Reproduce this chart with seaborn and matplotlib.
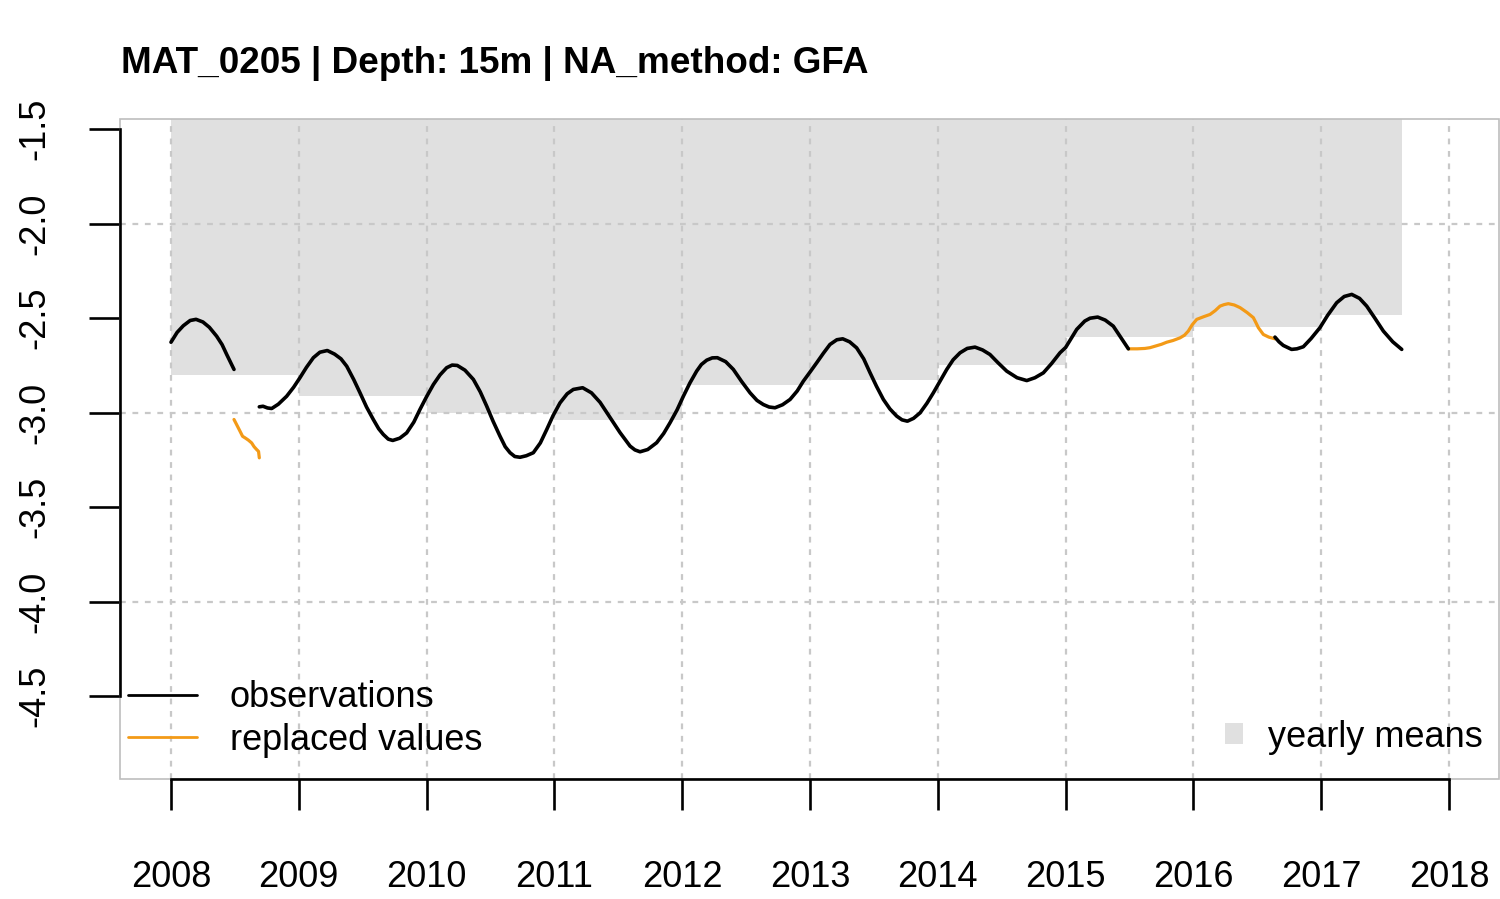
import matplotlib
matplotlib.use("Agg")
import matplotlib.pyplot as plt
import numpy as np
import pandas as pd
import seaborn as sns
from matplotlib.patches import Rectangle, Patch
from matplotlib.lines import Line2D

TITLE = "MAT_0205 | Depth: 15m | NA_method: GFA"

# ---- observations (black), three segments ----
obs_a_t = [2008.000, 2008.048, 2008.096, 2008.150, 2008.196, 2008.250, 2008.300,
           2008.357, 2008.400, 2008.436, 2008.493]
obs_a_v = [-2.627, -2.575, -2.540, -2.512, -2.506, -2.520, -2.548,
           -2.595, -2.640, -2.692, -2.771]

obs_b_t = [2008.691, 2008.720, 2008.755, 2008.788, 2008.840, 2008.905, 2008.960, 2009.009,
           2009.060, 2009.114, 2009.165, 2009.223, 2009.280, 2009.330, 2009.375, 2009.430,
           2009.479, 2009.530, 2009.583, 2009.625, 2009.661, 2009.700, 2009.735, 2009.790,
           2009.844, 2009.900, 2009.948, 2010.000, 2010.053, 2010.105, 2010.157, 2010.200,
           2010.240, 2010.300, 2010.366, 2010.420, 2010.470, 2010.520, 2010.574, 2010.615,
           2010.653, 2010.690, 2010.731, 2010.780, 2010.835, 2010.890, 2010.940, 2010.990,
           2011.044, 2011.100, 2011.148, 2011.221, 2011.290, 2011.357, 2011.430, 2011.513,
           2011.592, 2011.630, 2011.670, 2011.730, 2011.800, 2011.855, 2011.905, 2011.960,
           2012.009, 2012.060, 2012.113, 2012.150, 2012.192, 2012.235, 2012.275, 2012.340,
           2012.400, 2012.465, 2012.531, 2012.585, 2012.635, 2012.680, 2012.726, 2012.785,
           2012.844, 2012.900, 2012.948, 2013.000, 2013.052, 2013.105, 2013.156, 2013.210,
           2013.256, 2013.310, 2013.365, 2013.420, 2013.470, 2013.520, 2013.574, 2013.625,
           2013.678, 2013.720, 2013.762, 2013.810, 2013.861, 2013.915, 2013.965, 2014.020,
           2014.070, 2014.120, 2014.174, 2014.230, 2014.291, 2014.350, 2014.408, 2014.470,
           2014.539, 2014.620, 2014.696, 2014.760, 2014.826, 2014.890, 2014.956, 2015.000,
           2015.050, 2015.087, 2015.150, 2015.191, 2015.251, 2015.310, 2015.373, 2015.430,
           2015.491]
obs_b_v = [-2.969, -2.966, -2.975, -2.978, -2.955, -2.913, -2.865, -2.815,
           -2.760, -2.709, -2.680, -2.671, -2.690, -2.715, -2.754, -2.825,
           -2.895, -2.970, -3.036, -3.085, -3.115, -3.140, -3.147, -3.135,
           -3.107, -3.050, -2.983, -2.915, -2.851, -2.800, -2.762, -2.748,
           -2.750, -2.775, -2.824, -2.890, -2.965, -3.045, -3.124, -3.180,
           -3.212, -3.232, -3.236, -3.228, -3.212, -3.160, -3.089, -3.015,
           -2.948, -2.900, -2.877, -2.868, -2.895, -2.945, -3.020, -3.105,
           -3.177, -3.197, -3.207, -3.195, -3.159, -3.110, -3.053, -2.985,
           -2.913, -2.843, -2.780, -2.745, -2.722, -2.710, -2.709, -2.730,
           -2.771, -2.835, -2.895, -2.935, -2.957, -2.970, -2.974, -2.958,
           -2.930, -2.885, -2.833, -2.785, -2.736, -2.685, -2.639, -2.614,
           -2.609, -2.625, -2.657, -2.715, -2.789, -2.860, -2.930, -2.980,
           -3.018, -3.038, -3.045, -3.030, -3.001, -2.950, -2.895, -2.830,
           -2.771, -2.720, -2.683, -2.660, -2.653, -2.668, -2.692, -2.735,
           -2.780, -2.815, -2.830, -2.815, -2.789, -2.740, -2.683, -2.655,
           -2.600, -2.559, -2.515, -2.500, -2.494, -2.510, -2.542, -2.600,
           -2.662]

obs_c_t = [2016.638, 2016.670, 2016.703, 2016.768, 2016.810, 2016.860, 2016.920, 2016.990,
           2017.050, 2017.121, 2017.180, 2017.239, 2017.300, 2017.356, 2017.420, 2017.486,
           2017.560, 2017.630]
obs_c_v = [-2.600, -2.625, -2.644, -2.665, -2.662, -2.651, -2.608, -2.550,
           -2.485, -2.418, -2.385, -2.374, -2.395, -2.436, -2.500, -2.568,
           -2.625, -2.665]

# ---- replaced values (orange), two segments ----
rep_a_t = [2008.493, 2008.515, 2008.540, 2008.560, 2008.579, 2008.605, 2008.631,
           2008.650, 2008.670, 2008.685, 2008.691]
rep_a_v = [-3.036, -3.065, -3.098, -3.125, -3.133, -3.145, -3.160,
           -3.180, -3.195, -3.205, -3.239]

rep_b_t = [2015.491, 2015.560, 2015.620, 2015.660, 2015.700, 2015.750, 2015.791, 2015.840,
           2015.895, 2015.930, 2015.960, 2015.990, 2016.026, 2016.080, 2016.130, 2016.170,
           2016.208, 2016.240, 2016.273, 2016.320, 2016.365, 2016.420, 2016.469, 2016.490,
           2016.508, 2016.547, 2016.590, 2016.638]
rep_b_v = [-2.662, -2.662, -2.660, -2.656, -2.648, -2.638, -2.627, -2.618,
           -2.604, -2.590, -2.568, -2.535, -2.506, -2.492, -2.480, -2.460,
           -2.436, -2.428, -2.423, -2.430, -2.444, -2.470, -2.497, -2.525,
           -2.550, -2.586, -2.600, -2.609]

# ---- yearly means ----
mean_start = [2008.0, 2009.0, 2010.0, 2011.0, 2012.0, 2013.0, 2014.0, 2015.0, 2016.0, 2017.0]
mean_end = [2009.0, 2010.0, 2011.0, 2012.0, 2013.0, 2014.0, 2015.0, 2016.0, 2017.0, 2017.63]
mean_vals = [-2.80, -2.913, -3.00, -3.04, -2.854, -2.829, -2.748, -2.597, -2.545, -2.483]

x_ticks = list(range(2008, 2019))
y_ticks = [-1.5, -2.0, -2.5, -3.0, -3.5, -4.0, -4.5]
y_grid = [-2.0, -3.0, -4.0]

LEG_LINES = ["observations", "replaced values"]
LEG_BAR = "yearly means"

ORANGE = "#F39A17"
BARGRAY = "#E0E0E0"
GRIDC = "#C8C8C8"
BOXC = "#BEBEBE"

sns.set_style("white", {"xtick.bottom": True, "ytick.left": True})
plt.rcParams["font.family"] = ["Liberation Sans", "DejaVu Sans"]
plt.rcParams["text.color"] = "black"
plt.rcParams["xtick.color"] = "black"
plt.rcParams["ytick.color"] = "black"
plt.rcParams["legend.labelcolor"] = "black"

W, H = 1500, 899
fig = plt.figure(figsize=(W / 100, H / 100), dpi=100)
ax = fig.add_axes([120 / W, (H - 779) / H, 1379 / W, 660 / H])
XMIN, XMAX = 2007.601, 2018.391
YMIN, YMAX = -4.939, -1.4455
ax.set_xlim(XMIN, XMAX)
ax.set_ylim(YMIN, YMAX)

# yearly mean bars (from mean up to top of plot)
widths = [e - s for s, e in zip(mean_start, mean_end)]
heights = [YMAX + 1.0 - m for m in mean_vals]
ax.bar(mean_start, heights, bottom=mean_vals, width=widths, align="edge",
       color=BARGRAY, linewidth=0, zorder=1)

# grid
dash = (0, (2.6, 3.0))
for xv in x_ticks:
    ax.axvline(xv, color=GRIDC, lw=1.6, ls=dash, zorder=2)
for yv in y_grid:
    ax.axhline(yv, color=GRIDC, lw=1.6, ls=dash, zorder=2)

# series
obs = pd.concat([
    pd.DataFrame({"t": obs_a_t, "v": obs_a_v, "seg": 0}),
    pd.DataFrame({"t": obs_b_t, "v": obs_b_v, "seg": 1}),
    pd.DataFrame({"t": obs_c_t, "v": obs_c_v, "seg": 2}),
])
rep = pd.concat([
    pd.DataFrame({"t": rep_a_t, "v": rep_a_v, "seg": 0}),
    pd.DataFrame({"t": rep_b_t, "v": rep_b_v, "seg": 1}),
])
sns.lineplot(data=obs, x="t", y="v", units="seg", estimator=None, sort=False,
             color="black", lw=2.6, ax=ax, zorder=4, legend=False)
sns.lineplot(data=rep, x="t", y="v", units="seg", estimator=None, sort=False,
             color=ORANGE, lw=2.3, ax=ax, zorder=3, legend=False)
ax.set_xlabel("")
ax.set_ylabel("")

# box
ax.add_patch(Rectangle((0, 0), 1, 1, transform=ax.transAxes, fill=False,
                       edgecolor=BOXC, lw=1.2, clip_on=False, zorder=5))

# axes
for s in ["top", "right"]:
    ax.spines[s].set_visible(False)
ax.spines["left"].set_bounds(y_ticks[-1], y_ticks[0])
ax.spines["bottom"].set_bounds(x_ticks[0], x_ticks[-1])
for s in ["left", "bottom"]:
    ax.spines[s].set_color("black")
    ax.spines[s].set_linewidth(1.9)
    ax.spines[s].set_zorder(6)

ax.set_xticks(x_ticks)
ax.set_xticklabels([str(x) for x in x_ticks])
ax.set_yticks(y_ticks)
ax.set_yticklabels([f"{v:.1f}" for v in y_ticks])
ax.tick_params(axis="both", which="major", bottom=True, left=True, direction="out",
               length=22, width=1.9, color="black", labelsize=26, labelcolor="black")
ax.tick_params(axis="x", pad=36)
ax.tick_params(axis="y", pad=27)
for lab in ax.get_yticklabels():
    lab.set_rotation(90)
    lab.set_va("center")

# legends
h1 = [Line2D([0], [0], color="black", lw=2.0), Line2D([0], [0], color=ORANGE, lw=2.0)]
leg1 = ax.legend(h1, LEG_LINES, loc="center left", bbox_to_anchor=(0.0058, 0.091),
                 frameon=False, borderpad=0, borderaxespad=0, handlelength=1.9,
                 handletextpad=0.92, labelspacing=0.2, fontsize=26, labelcolor="black")
ax.add_artist(leg1)
h2 = [Patch(facecolor=BARGRAY, edgecolor="none")]
ax.legend(h2, [LEG_BAR], loc="center right", bbox_to_anchor=(0.9884, 0.0636),
          frameon=False, borderpad=0, borderaxespad=0, handlelength=0.5,
          handleheight=0.5, handletextpad=0.7, fontsize=26, labelcolor="black")

fig.text(121 / W, (H - 72.7) / H, TITLE, fontsize=26.6, fontweight="bold",
         ha="left", va="baseline", color="black")

fig.savefig("out.png", dpi=100)
